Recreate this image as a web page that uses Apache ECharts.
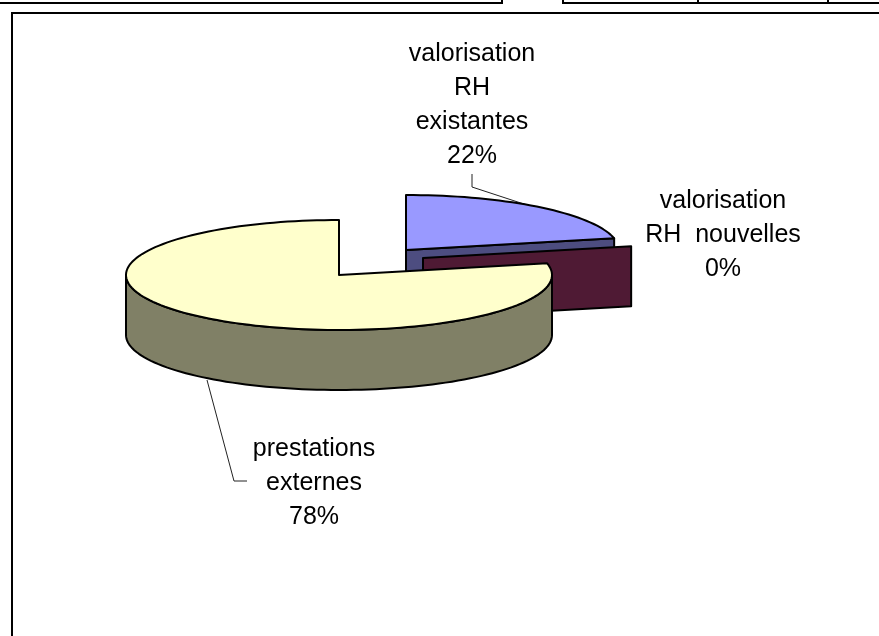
<!DOCTYPE html>
<html>
<head>
<meta charset="utf-8">
<style>html,body{margin:0;padding:0;background:#fff}#chart{width:879px;height:636px}</style>
<script src="https://cdn.jsdelivr.net/npm/echarts@6/dist/echarts.min.js"></script>
</head>
<body>
<div id="chart"></div>
<script>
// Data
const categories = ['valorisation\nRH\nexistantes', 'valorisation\nRH  nouvelles', 'prestations\nexternes'];
const shares = [21.6, 0, 78.4];

// Styles
const topColors = ['#9999ff', '#993366', '#ffffcc'];
const sideColors = ['#4d4d80', '#4f1a34', '#808066'];

// Layout of the 3D pie
const radiusX = 213, radiusY = 55, depth = 60;
const sliceCentres = [[406, 250], [423, 258], [339, 275]];
const labelCentres = [[472, 105], [723, 235], [314, 483]];
const leaderLines = [
  [[472, 174], [472, 187], [533, 207]],
  null,
  [[207, 380], [234, 481], [247, 481]]
];

const total = shares.reduce((a, b) => a + b, 0);
const startAngles = [];
shares.reduce((sum, v, i) => { startAngles[i] = sum / total * 360; return sum + v; }, 0);

function rim(c, deg, dy) {
  const r = deg * Math.PI / 180;
  return [c[0] + radiusX * Math.sin(r), c[1] - radiusY * Math.cos(r) + (dy || 0)];
}
function arc(c, a0, a1, dy) {
  const pts = [], n = Math.max(1, Math.ceil((a1 - a0) / 2));
  for (let i = 0; i <= n; i++) pts.push(rim(c, a0 + (a1 - a0) * i / n, dy));
  return pts;
}
function face(c, deg, fill) {
  const p = rim(c, deg);
  return { type: 'polygon', shape: { points: [c, p, [p[0], p[1] + depth], [c[0], c[1] + depth]] },
    style: { fill: fill, stroke: '#000', lineWidth: 2, lineJoin: 'round' } };
}

function renderSlice(params, api) {
  const i = params.dataIndex;
  const c = sliceCentres[i];
  const a0 = startAngles[i];
  const a1 = a0 + api.value(0) / total * 360;
  const children = [];
  const line = leaderLines[i];
  if (line) children.push({ type: 'polyline', shape: { points: line }, style: { fill: null, stroke: '#222', lineWidth: 1 } });
  // outer wall: only the front half of the rim faces the viewer
  const w0 = Math.max(a0, 90), w1 = Math.min(a1, 270);
  if (w1 > w0) {
    children.push({ type: 'polygon',
      shape: { points: arc(c, w0, w1, 0).concat(arc(c, w0, w1, depth).reverse()) },
      style: { fill: sideColors[i], stroke: '#000', lineWidth: 2, lineJoin: 'round' } });
  }
  // cut faces
  if (a0 > 180 && a0 < 360) children.push(face(c, a0, sideColors[i]));
  if (a1 > 0 && a1 < 180) children.push(face(c, a1, sideColors[i]));
  // top face
  if (a1 > a0) {
    children.push({ type: 'polygon', shape: { points: [c].concat(arc(c, a0, a1, 0)) },
      style: { fill: topColors[i], stroke: '#000', lineWidth: 2, lineJoin: 'round' } });
  }
  // label
  children.push({ type: 'text', style: {
    text: categories[i] + '\n' + Math.round(api.value(0) / total * 100) + '%',
    x: labelCentres[i][0], y: labelCentres[i][1],
    align: 'center', verticalAlign: 'middle',
    fontFamily: '"Liberation Sans", Arial, sans-serif', fontSize: 25, lineHeight: 34, fill: '#000'
  } });
  return { type: 'group', children: children };
}

const rule = (x1, y1, x2, y2) => ({ type: 'line', silent: true,
  shape: { x1, y1, x2, y2 }, style: { stroke: '#000', lineWidth: 2 } });

const chart = echarts.init(document.getElementById('chart'), null, { renderer: 'canvas' });
chart.setOption({
  backgroundColor: '#fff',
  animation: false,
  graphic: [
    rule(0, 3, 503, 3), rule(502, 0, 502, 4),
    rule(562, 3, 879, 3), rule(563, 0, 563, 4), rule(698, 0, 698, 4), rule(828, 0, 828, 4),
    rule(11, 13, 879, 13), rule(12, 12, 12, 636)
  ],
  series: [{
    type: 'custom',
    coordinateSystem: 'none',
    silent: true,
    renderItem: renderSlice,
    data: shares.map(v => [v])
  }]
});
</script>
</body>
</html>
